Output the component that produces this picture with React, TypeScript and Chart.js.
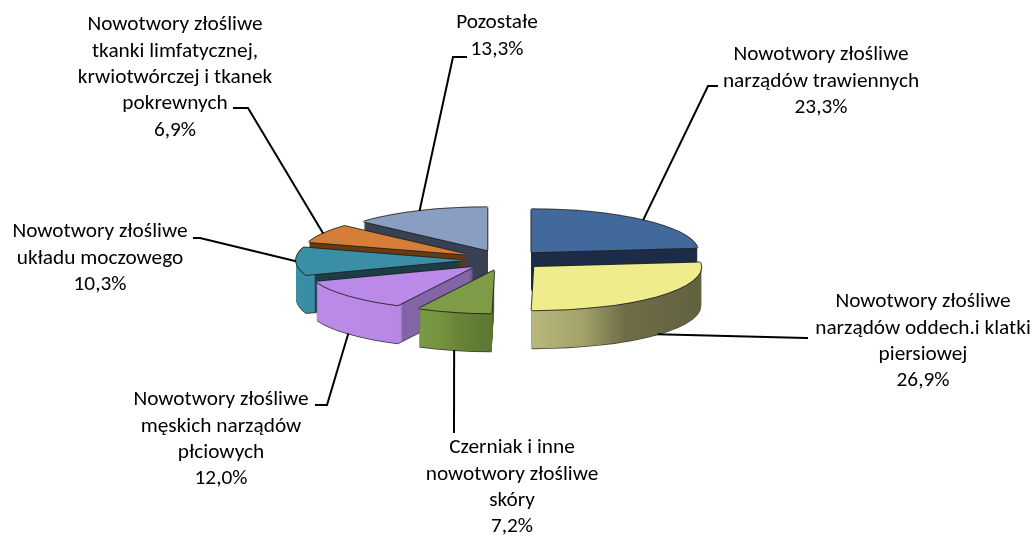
import React, { useEffect, useRef } from "react";
import { Chart, ArcElement, registerables } from "chart.js";

Chart.register(...registerables);

// ---------- DATA ----------
const categories: string[] = [
  "Nowotwory złośliwe narządów trawiennych",
  "Nowotwory złośliwe narządów oddech.i klatki piersiowej",
  "Czerniak i inne nowotwory złośliwe skóry",
  "Nowotwory złośliwe męskich narządów płciowych",
  "Nowotwory złośliwe układu moczowego",
  "Nowotwory złośliwe tkanki limfatycznej, krwiotwórczej i tkanek pokrewnych",
  "Pozostałe",
];
const values: number[] = [23.3, 26.9, 7.2, 12.0, 10.3, 6.9, 13.3];
const labelLines: string[][] = [
  ["Nowotwory złośliwe", "narządów trawiennych"],
  ["Nowotwory złośliwe", "narządów oddech.i klatki", "piersiowej"],
  ["Czerniak i inne", "nowotwory złośliwe", "skóry"],
  ["Nowotwory złośliwe", "męskich narządów", "płciowych"],
  ["Nowotwory złośliwe", "układu moczowego"],
  ["Nowotwory złośliwe", "tkanki limfatycznej,", "krwiotwórczej i tkanek", "pokrewnych"],
  ["Pozostałe"],
];

// ---------- STYLE ----------
const topColors = ["#41699c", "#eeec8c", "#7e9c47", "#bb8ae8", "#3a8fa6", "#d47e37", "#8a9ec2"];
const cutColors = ["#1d2d47", "#6e6d45", "#55702c", "#8466a8", "#1c3e48", "#6a3b12", "#394254"];
const wallStops = [0, 0.3, 0.55, 1];
const wallColors: string[][] = [
  ["#2c4a70", "#2c4a70", "#2c4a70", "#2c4a70"],
  ["#b8b77c", "#a3a26b", "#6e6d47", "#62623f"],
  ["#7b9a48", "#74933f", "#668336", "#5c7731"],
  ["#bb8be8", "#ba89e7", "#b887e5", "#b282de"],
  ["#3a8fa6", "#378ba2", "#338599", "#2f7d92"],
  ["#b86a2a", "#b86a2a", "#b86a2a", "#b86a2a"],
  ["#6f82a3", "#6f82a3", "#6f82a3", "#6f82a3"],
];
const RADIUS = 167;
const EXPLODE = 41;
const SQUASH = 0.2575;
const DEPTH = 38;
const RING = 10;
const OUTLINE = "rgba(35,35,35,0.85)";
const FONT = "21.3px Carlito, Lato, sans-serif";
const LINE_H = 26.3;

// label layout: centre x, first line centre y, leader elbow and end
const labelLayout = [
  { cx: 821, y0: 55, elbow: [708, 86], end: [718, 86] },
  { cx: 923, y0: 302, elbow: [806, 338], end: [808, 338] },
  { cx: 512, y0: 448, elbow: [454, 433], end: [454, 433] },
  { cx: 221, y0: 400, elbow: [327, 405], end: [315, 405] },
  { cx: 100, y0: 232, elbow: [200, 238], end: [193, 238] },
  { cx: 175, y0: 25, elbow: [248, 108], end: [233, 108] },
  { cx: 497, y0: 23, elbow: [453, 57], end: [467, 57] },
];

const fmt = (v: number) => v.toFixed(1).replace(".", ",") + "%";

function geom(a: any) {
  const p = a.getProps(["x", "y", "startAngle", "endAngle", "outerRadius", "circumference"], true);
  const m = (p.startAngle + p.endAngle) / 2;
  return { ...p, m, ox: Math.cos(m) * EXPLODE, oy: Math.sin(m) * EXPLODE };
}

function squashed(ctx: CanvasRenderingContext2D, cy: number, dx: number, dy: number, fn: () => void) {
  ctx.save();
  ctx.translate(dx, cy + dy);
  ctx.scale(1, SQUASH);
  ctx.translate(0, -cy);
  fn();
  ctx.restore();
}

const pie3d = {
  id: "pie3d",
  beforeDatasetsDraw(chart: any) {
    const ctx: CanvasRenderingContext2D = chart.ctx;
    const arcs: any[] = chart.getDatasetMeta(0).data;
    const order = arcs.map((_, i) => i).sort((i, j) => Math.sin(geom(arcs[i]).m) - Math.sin(geom(arcs[j]).m));
    for (const i of order) {
      const g = geom(arcs[i]);
      const base = { ...arcs[i].options, borderWidth: 0, offset: 0, spacing: 0, borderColor: "transparent" };
      const cx = g.x + g.ox;
      const cyc = g.y + g.oy;
      const mk = (inner: number, color: any, s = g.startAngle, e = g.endAngle) =>
        new (ArcElement as any)({
          x: cx, y: cyc, startAngle: s, endAngle: e,
          circumference: e - s, innerRadius: inner, outerRadius: g.outerRadius,
          options: { ...base, backgroundColor: color },
        });
      let minX = cx, maxX = cx;
      for (let t = 0; t <= 40; t++) {
        const ang = g.startAngle + (g.endAngle - g.startAngle) * (t / 40);
        const xx = cx + Math.cos(ang) * g.outerRadius;
        minX = Math.min(minX, xx); maxX = Math.max(maxX, xx);
      }
      const grad = ctx.createLinearGradient(minX, 0, maxX, 0);
      wallStops.forEach((s, k) => grad.addColorStop(s, wallColors[i][k]));
      const bottom = mk(0, OUTLINE);
      const cut = mk(0, cutColors[i]);
      squashed(ctx, g.y, 0, DEPTH + 1, () => bottom.draw(ctx));
      for (let k = DEPTH; k >= 1; k--) squashed(ctx, g.y, 0, k, () => cut.draw(ctx));
      // only the front half of the outer wall faces the viewer
      const ws = Math.max(g.startAngle, 0);
      const we = Math.min(g.endAngle, Math.PI);
      if (we > ws) {
        const wall = mk(g.outerRadius - RING, grad, ws, we);
        for (let k = DEPTH; k >= 1; k--) squashed(ctx, g.y, 0, k, () => wall.draw(ctx));
      }
      const dark = mk(0, OUTLINE);
      squashed(ctx, g.y, 0, 1, () => dark.draw(ctx));
      squashed(ctx, g.y, 0, -1, () => dark.draw(ctx));
      squashed(ctx, g.y, -1, 0, () => dark.draw(ctx));
      squashed(ctx, g.y, 1, 0, () => dark.draw(ctx));
      const top = mk(0, topColors[i]);
      squashed(ctx, g.y, 0, 0, () => top.draw(ctx));
    }
    return false;
  },
  afterDraw(chart: any) {
    const ctx: CanvasRenderingContext2D = chart.ctx;
    const arcs: any[] = chart.getDatasetMeta(0).data;
    ctx.save();
    ctx.font = FONT;
    ctx.fillStyle = "#000000";
    ctx.textAlign = "center";
    ctx.textBaseline = "middle";
    ctx.strokeStyle = "#000000";
    ctx.lineWidth = 2;
    arcs.forEach((a, i) => {
      const g = geom(a);
      const L = labelLayout[i];
      const ax = g.x + g.ox + Math.cos(g.m) * g.outerRadius;
      const ay = g.y + (g.oy + Math.sin(g.m) * g.outerRadius) * SQUASH + (Math.sin(g.m) > 0.3 ? DEPTH : 0);
      ctx.beginPath();
      ctx.moveTo(ax, ay);
      ctx.lineTo(L.elbow[0], L.elbow[1]);
      ctx.lineTo(L.end[0], L.end[1]);
      ctx.stroke();
      const lines = [...labelLines[i], fmt(values[i])];
      lines.forEach((s, k) => ctx.fillText(s, L.cx, L.y0 + k * LINE_H));
    });
    ctx.restore();
  },
};

export default function App() {
  const ref = useRef<HTMLCanvasElement>(null);
  useEffect(() => {
    if (!ref.current) return;
    const chart = new Chart(ref.current, {
      type: "pie",
      data: {
        labels: categories,
        datasets: [{ data: values, backgroundColor: topColors, borderWidth: 0, radius: RADIUS } as any],
      },
      options: {
        animation: false,
        responsive: false,
        events: [],
        layout: { padding: { left: 0, right: 28, top: 0, bottom: 16 } },
        plugins: { legend: { display: false }, tooltip: { enabled: false } },
      },
      plugins: [pie3d],
    });
    return () => chart.destroy();
  }, []);
  return (
    <div style={{ position: "fixed", left: 0, top: 0, width: 1036, height: 536, background: "#ffffff" }}>
      <canvas ref={ref} width={1036} height={536} style={{ display: "block" }} />
    </div>
  );
}
